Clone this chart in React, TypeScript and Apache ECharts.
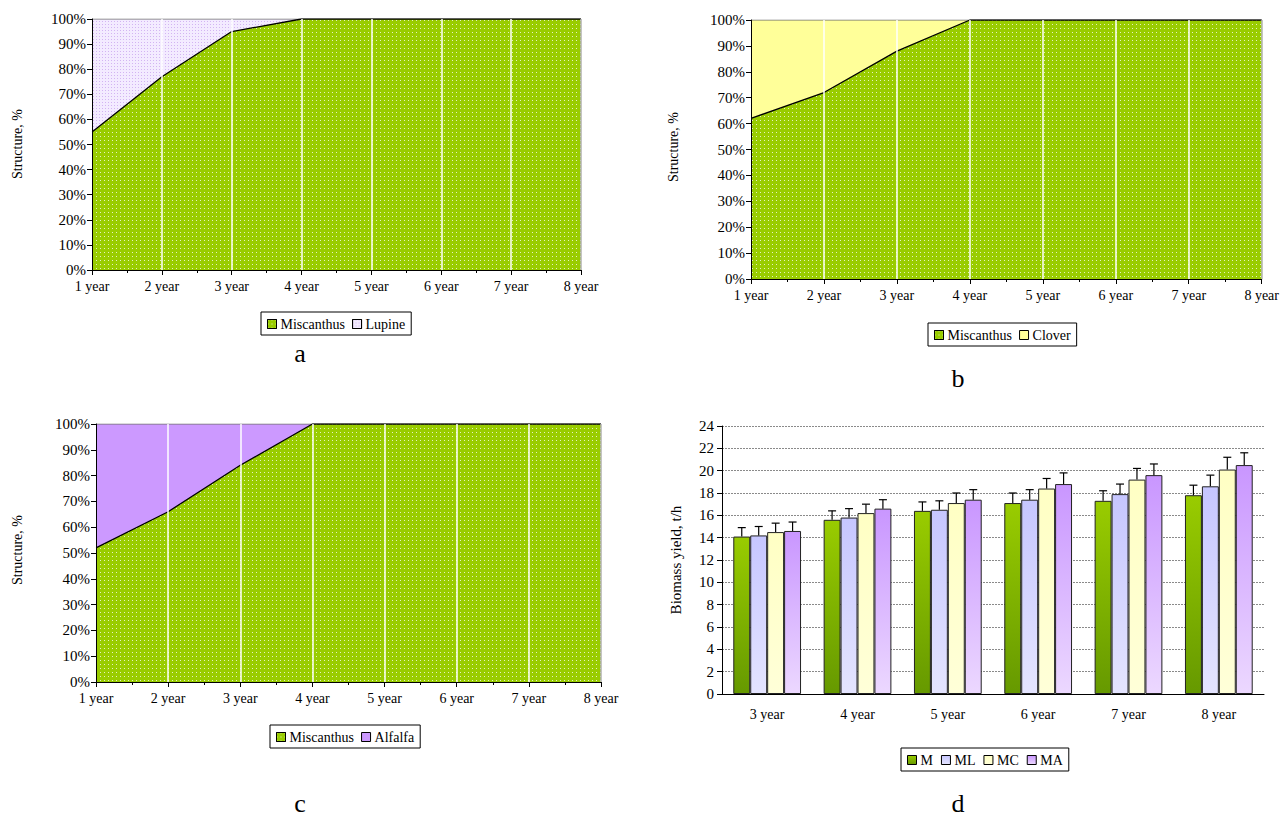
import React, { useEffect, useRef } from "react";
import * as echarts from "echarts";

const years8 = ["1 year", "2 year", "3 year", "4 year", "5 year", "6 year", "7 year", "8 year"];
const miscA = [55, 77, 95, 100, 100, 100, 100, 100];
const lupine = [45, 23, 5, 0, 0, 0, 0, 0];
const miscB = [62, 72, 88, 100, 100, 100, 100, 100];
const clover = [38, 28, 12, 0, 0, 0, 0, 0];
const miscC = [52, 66, 84, 100, 100, 100, 100, 100];
const alfalfa = [48, 34, 16, 0, 0, 0, 0, 0];

const years6 = ["3 year", "4 year", "5 year", "6 year", "7 year", "8 year"];
const yieldM = [14.1, 15.6, 16.4, 17.1, 17.3, 17.8];
const yieldML = [14.2, 15.8, 16.5, 17.4, 17.9, 18.6];
const yieldMC = [14.5, 16.2, 17.1, 18.4, 19.2, 20.1];
const yieldMA = [14.6, 16.6, 17.4, 18.8, 19.6, 20.5];
const errM = [0.8, 0.8, 0.8, 0.9, 0.9, 0.9];
const errML = [0.8, 0.8, 0.8, 0.9, 0.9, 1.0];
const errMC = [0.8, 0.8, 0.9, 0.9, 1.0, 1.1];
const errMA = [0.8, 0.8, 0.9, 1.0, 1.0, 1.1];

const FONT = "Liberation Serif";

export default function App() {
  const ref = useRef<HTMLDivElement>(null);
  useEffect(() => {
    if (!ref.current) return;
    const chart = echarts.init(ref.current, null, { renderer: "svg" });

    const greenDecal = {
      symbol: "rect",
      symbolSize: 1,
      dashArrayX: [1, 3],
      dashArrayY: [1, 3],
      color: "rgba(255,255,255,0.75)",
      rotation: 0,
    };
    const lupineDecal = {
      symbol: "rect",
      symbolSize: 1,
      dashArrayX: [1, 1.5],
      dashArrayY: [1, 1.5],
      color: "#d2b4f2",
      rotation: 0,
    };

    const grids = [
      { left: 92, top: 19, width: 489, height: 251 },
      { left: 751, top: 20, width: 511, height: 259 },
      { left: 96, top: 424, width: 505, height: 258 },
      { left: 722, top: 426, width: 542, height: 268 },
    ];

    const axisText = { fontFamily: FONT, fontSize: 14, color: "#000" };

    const areaX = (gi: number) => ({
      type: "category",
      gridIndex: gi,
      data: years8,
      boundaryGap: false,
      z: 5,
      axisLine: { lineStyle: { color: "#000", width: 1 } },
      axisTick: { alignWithLabel: true, length: 5, lineStyle: { color: "#000" } },
      axisLabel: { ...axisText, margin: 9 },
      splitLine: {
        show: true,
        lineStyle: { color: ["#fff", "#fff", "#fff", "#fff", "#fff", "#fff", "#fff", "#b0b0b0"], width: 1.5 },
      },
    });
    const minorX = (gi: number) => ({
      type: "value",
      gridIndex: gi,
      min: 0,
      max: 7,
      interval: 0.5,
      position: "bottom",
      z: 5,
      axisLine: { show: false },
      axisTick: { show: true, length: 3, lineStyle: { color: "#000" } },
      axisLabel: { show: false },
      splitLine: { show: false },
    });
    const areaY = (gi: number) => ({
      type: "value",
      gridIndex: gi,
      min: 0,
      max: 100,
      interval: 10,
      z: 6,
      axisLine: { show: true, lineStyle: { color: "#000", width: 1 } },
      axisTick: { show: true, length: 5, lineStyle: { color: "#000" } },
      axisLabel: { ...axisText, fontSize: 15, formatter: "{value}%", margin: 6 },
      splitLine: { show: false },
    });

    const miscSeries = (gi: number, data: number[]) => ({
      name: "Miscanthus",
      type: "line",
      xAxisIndex: gi,
      yAxisIndex: gi,
      stack: "s" + gi,
      data,
      symbol: "none",
      z: 3,
      lineStyle: { color: "#000", width: 1.3 },
      itemStyle: { color: "#99cc00", decal: greenDecal },
      areaStyle: { color: "#99cc00", opacity: 1 },
    });
    const otherSeries = (gi: number, name: string, data: number[], color: string, decal?: any) => ({
      name,
      type: "line",
      xAxisIndex: gi,
      yAxisIndex: gi,
      stack: "s" + gi,
      data,
      symbol: "none",
      z: 2,
      lineStyle: { color: "#707070", width: 1.2 },
      itemStyle: decal ? { color, decal } : { color },
      areaStyle: { color, opacity: 1 },
    });

    const barGrad = (top: string, bottom: string) =>
      new echarts.graphic.LinearGradient(0, 0, 0, 1, [
        { offset: 0, color: top },
        { offset: 1, color: bottom },
      ]);
    const barSeries = (name: string, data: number[], top: string, bottom: string) => ({
      name,
      type: "bar",
      xAxisIndex: 6,
      yAxisIndex: 3,
      data,
      barGap: "0%",
      barCategoryGap: "25%",
      z: 2,
      itemStyle: { color: barGrad(top, bottom), borderColor: "#222", borderWidth: 1 },
    });

    const errData: number[][] = [];
    [
      [yieldM, errM],
      [yieldML, errML],
      [yieldMC, errMC],
      [yieldMA, errMA],
    ].forEach(([vals, errs], k) => {
      vals.forEach((v, i) => errData.push([i, v, errs[i], k]));
    });

    const legendBase = {
      orient: "horizontal",
      icon: "rect",
      itemWidth: 9,
      itemHeight: 9,
      itemGap: 7,
      padding: [5, 6, 4, 6],
      borderColor: "#000",
      borderWidth: 1,
      borderRadius: 0,
      backgroundColor: "#fff",
      textStyle: { fontFamily: FONT, fontSize: 14, color: "#000", padding: [0, 0, 0, -1] },
      itemStyle: { borderColor: "#000", borderWidth: 1 },
      selectedMode: false,
    };

    const option: any = {
      animation: false,
      backgroundColor: "#fff",
      grid: grids.map((g) => ({ ...g, containLabel: false, show: false })),
      xAxis: [
        areaX(0),
        areaX(1),
        areaX(2),
        minorX(0),
        minorX(1),
        minorX(2),
        {
          type: "category",
          gridIndex: 3,
          data: years6,
          boundaryGap: true,
          position: "bottom",
          axisLine: { lineStyle: { color: "#000", width: 1 } },
          axisTick: { length: 5, lineStyle: { color: "#000" } },
          axisLabel: { ...axisText, margin: 13 },
          splitLine: { show: false },
        },
      ],
      yAxis: [
        areaY(0),
        areaY(1),
        areaY(2),
        {
          type: "value",
          gridIndex: 3,
          min: 0,
          max: 24,
          interval: 2,
          axisLine: { show: true, lineStyle: { color: "#000", width: 1 } },
          axisTick: { show: true, length: 5, lineStyle: { color: "#000" } },
          axisLabel: { ...axisText, fontSize: 15, margin: 8 },
          splitLine: { show: true, lineStyle: { color: "#8a8a8a", type: [2, 1], width: 1 } },
        },
      ],
      legend: [
        { ...legendBase, left: 261, top: 312, data: ["Miscanthus", "Lupine"] },
        { ...legendBase, left: 928, top: 323, data: ["Miscanthus", "Clover"] },
        { ...legendBase, left: 270, top: 725, data: ["Miscanthus", "Alfalfa"] },
        { ...legendBase, left: 901, top: 748, itemGap: 8, data: ["M", "ML", "MC", "MA"] },
      ],
      series: [
        miscSeries(0, miscA),
        otherSeries(0, "Lupine", lupine, "#f3ebff", lupineDecal),
        miscSeries(1, miscB),
        otherSeries(1, "Clover", clover, "#ffff99"),
        miscSeries(2, miscC),
        otherSeries(2, "Alfalfa", alfalfa, "#cc99ff"),
        barSeries("M", yieldM, "#99cc00", "#669900"),
        barSeries("ML", yieldML, "#c6c6ff", "#e4e4ff"),
        barSeries("MC", yieldMC, "#ffffc4", "#ffffd8"),
        barSeries("MA", yieldMA, "#c996ff", "#ecd8ff"),
        {
          type: "custom",
          name: "err",
          xAxisIndex: 6,
          yAxisIndex: 3,
          z: 5,
          silent: true,
          data: errData,
          encode: { x: 0, y: 1 },
          renderItem: (params: any, api: any) => {
            const cat = api.value(0);
            const v = api.value(1);
            const e = api.value(2);
            const k = api.value(3);
            const band = api.size([1, 0])[0];
            const w = (band * 0.75) / 4;
            const base = api.coord([cat, v]);
            const top = api.coord([cat, v + e]);
            const x = base[0] + (k - 1.5) * w;
            const st = { stroke: "#000", lineWidth: 1.2 };
            return {
              type: "group",
              children: [
                { type: "line", shape: { x1: x, y1: base[1], x2: x, y2: top[1] }, style: st },
                { type: "line", shape: { x1: x - 4, y1: top[1], x2: x + 4, y2: top[1] }, style: st },
              ],
            };
          },
        },
      ],
      graphic: [
        { type: "text", x: 17, y: 144, rotation: Math.PI / 2, style: { text: "Structure, %", fontFamily: FONT, fontSize: 14, fill: "#000", align: "center", verticalAlign: "middle" } },
        { type: "text", x: 673, y: 147, rotation: Math.PI / 2, style: { text: "Structure, %", fontFamily: FONT, fontSize: 14, fill: "#000", align: "center", verticalAlign: "middle" } },
        { type: "text", x: 17, y: 550, rotation: Math.PI / 2, style: { text: "Structure, %", fontFamily: FONT, fontSize: 14, fill: "#000", align: "center", verticalAlign: "middle" } },
        { type: "text", x: 676, y: 560, rotation: Math.PI / 2, style: { text: "Biomass yield, t/h", fontFamily: FONT, fontSize: 15, fill: "#000", align: "center", verticalAlign: "middle" } },
        { type: "text", x: 300, y: 353, style: { text: "a", fontFamily: FONT, fontSize: 26, fill: "#000", align: "center", verticalAlign: "middle" } },
        { type: "text", x: 958, y: 378, style: { text: "b", fontFamily: FONT, fontSize: 26, fill: "#000", align: "center", verticalAlign: "middle" } },
        { type: "text", x: 300, y: 803, style: { text: "c", fontFamily: FONT, fontSize: 26, fill: "#000", align: "center", verticalAlign: "middle" } },
        { type: "text", x: 958, y: 803, style: { text: "d", fontFamily: FONT, fontSize: 26, fill: "#000", align: "center", verticalAlign: "middle" } },
      ],
    };
    chart.setOption(option);
    return () => chart.dispose();
  }, []);
  return (
    <div
      ref={ref}
      style={{ position: "absolute", left: 0, top: 0, width: 1282, height: 816, background: "#fff" }}
    />
  );
}
